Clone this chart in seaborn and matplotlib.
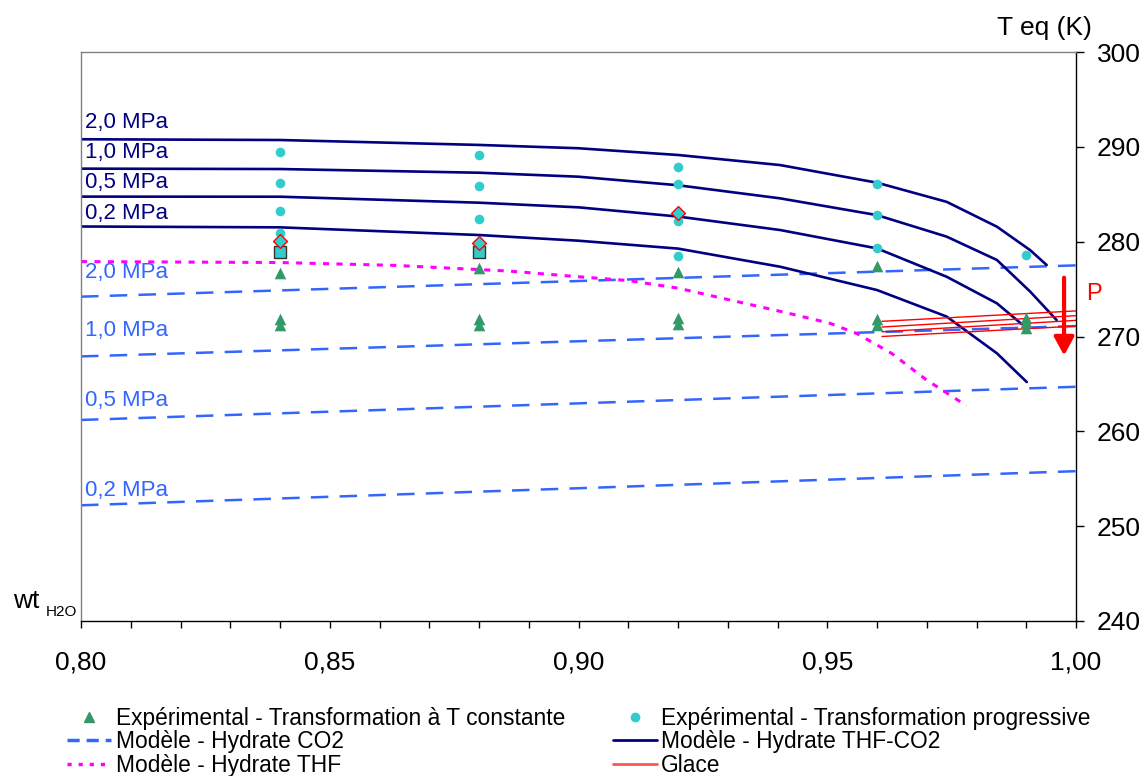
import matplotlib
matplotlib.use('Agg')
import matplotlib.pyplot as plt
from matplotlib.lines import Line2D
import seaborn as sns
import numpy as np

# ---- data ----
# experimental points (wt H2O, T eq in K)
tri_x = [0.84, 0.84, 0.84, 0.88, 0.88, 0.88, 0.92, 0.92, 0.92, 0.96, 0.96, 0.96, 0.99, 0.99, 0.99]
tri_T = [276.7, 271.8, 271.2, 277.2, 271.8, 271.2, 276.8, 272.0, 271.3, 277.4, 271.8, 271.2, 272.0, 271.5, 270.9]

circ_x = [0.84, 0.84, 0.84, 0.84, 0.88, 0.88, 0.88, 0.92, 0.92, 0.92, 0.92, 0.96, 0.96, 0.96, 0.99]
circ_T = [289.5, 286.2, 283.2, 280.9, 289.1, 285.9, 282.4, 287.9, 286.1, 282.2, 278.5, 286.1, 282.8, 279.3, 278.6]

diam_x = [0.84, 0.88, 0.92]
diam_T = [280.1, 279.9, 283.0]
sq_x = [0.84, 0.88]
sq_T = [278.9, 278.9]

# model - hydrate CO2 (straight lines, ends at 0.80 and 1.00)
co2_x = [0.80, 1.00]
co2_20 = [274.2, 277.5]
co2_10 = [267.9, 271.1]
co2_05 = [261.2, 264.7]
co2_02 = [252.2, 255.8]

# model - hydrate THF-CO2
mix_x = [0.80, 0.84, 0.88, 0.90, 0.92, 0.9405, 0.96, 0.974, 0.9841]
mix_20_x = mix_x + [0.9908, 0.9941]
mix_20_T = [290.8, 290.72, 290.2, 289.85, 289.14, 288.08, 286.22, 284.2, 281.58, 279.1, 277.54]
mix_10_x = mix_x + [0.9908, 0.9961]
mix_10_T = [287.7, 287.66, 287.27, 286.85, 285.95, 284.57, 282.8, 280.53, 278.07, 274.73, 271.74]
mix_05_x = mix_x + [0.9891]
mix_05_T = [284.75, 284.74, 284.11, 283.62, 282.65, 281.23, 279.29, 276.3, 273.5, 271.3]
mix_02_x = mix_x + [0.9901]
mix_02_T = [281.6, 281.51, 280.7, 280.1, 279.27, 277.36, 274.9, 272.1, 268.23, 265.2]

# model - hydrate THF
thf_x = [0.80, 0.84, 0.863, 0.886, 0.900, 0.910, 0.920, 0.930, 0.941, 0.9505, 0.956, 0.963, 0.970, 0.978]
thf_T = [277.9, 277.8, 277.5, 276.9, 276.3, 275.9, 275.1, 273.9, 272.6, 271.4, 270.3, 268.2, 265.4, 262.7]

# ice lines
ice_x = [0.961, 1.00]
ice_1 = [271.6, 272.7]
ice_2 = [271.0, 272.2]
ice_3 = [270.5, 271.7]
ice_4 = [270.0, 271.1]

pressures = ['2,0 MPa', '1,0 MPa', '0,5 MPa', '0,2 MPa']
xtick_vals = [0.80, 0.85, 0.90, 0.95, 1.00]
xtick_labels = ['0,80', '0,85', '0,90', '0,95', '1,00']
ytick_vals = [240, 250, 260, 270, 280, 290, 300]

NAVY = '#000080'
BLUE = '#3366FF'
MAG = '#FF00FF'
GREEN = '#339966'
CYAN = '#33CCCC'
RED = '#FF0000'

sns.set_style('white')
plt.rcParams['font.family'] = ['Liberation Sans', 'DejaVu Sans']
plt.rcParams['text.color'] = 'black'
plt.rcParams['xtick.color'] = 'black'
plt.rcParams['ytick.color'] = 'black'

fig = plt.figure(figsize=(11.44, 7.76), dpi=100)
ax = fig.add_axes([81 / 1144, 1 - 621 / 776, 995 / 1144, 569 / 776])

# CO2 hydrate model
for T in [co2_20, co2_10, co2_05, co2_02]:
    sns.lineplot(x=co2_x, y=T, ax=ax, color=BLUE, linewidth=1.8,
                 linestyle=(0, (7, 4.5)), sort=False, legend=False)

# THF-CO2 hydrate model
for xs, T in [(mix_20_x, mix_20_T), (mix_10_x, mix_10_T), (mix_05_x, mix_05_T), (mix_02_x, mix_02_T)]:
    sns.lineplot(x=xs, y=T, ax=ax, color=NAVY, linewidth=1.9, sort=False, legend=False)

# THF hydrate model
sns.lineplot(x=thf_x, y=thf_T, ax=ax, color=MAG, linewidth=2.2,
             linestyle=(0, (2, 2.4)), sort=False, legend=False)

# ice
for T in [ice_1, ice_2, ice_3, ice_4]:
    sns.lineplot(x=ice_x, y=T, ax=ax, color=RED, linewidth=1.0, sort=False, legend=False)

# experimental points
sns.scatterplot(x=tri_x, y=tri_T, ax=ax, marker='^', color=GREEN, s=70, linewidth=0, zorder=5)
sns.scatterplot(x=circ_x, y=circ_T, ax=ax, marker='o', color=CYAN, s=48, linewidth=0, zorder=5)
sns.scatterplot(x=sq_x, y=sq_T, ax=ax, marker='s', color=CYAN, edgecolor='#333333', s=75, linewidth=1.0, zorder=6)
sns.scatterplot(x=diam_x, y=diam_T, ax=ax, marker='D', color=CYAN, edgecolor=RED, s=50, linewidth=1.0, zorder=6)

# pressure labels
for lab, t in zip(pressures, [292.6, 289.35, 286.2, 283.0]):
    ax.text(0.8008, t, lab, color=NAVY, fontsize=16, va='center', ha='left')
for lab, t in zip(pressures, [276.8, 270.6, 263.3, 253.8]):
    ax.text(0.8008, t, lab, color=BLUE, fontsize=16, va='center', ha='left')

# pressure arrow
ax.annotate('', xy=(0.9976, 268.0), xytext=(0.9976, 276.2),
            arrowprops=dict(arrowstyle='-|>,head_length=0.55,head_width=0.3', color=RED,
                            lw=3, shrinkA=0, shrinkB=0, mutation_scale=20))
ax.text(1.0021, 274.5, 'P', color=RED, fontsize=17, va='center', ha='left')

ax.set_xlim(0.80, 1.00)
ax.set_ylim(240, 300)
ax.set_xticks(xtick_vals)
ax.set_xticklabels(xtick_labels)
ax.set_xticks(np.arange(0.80, 1.0001, 0.01), minor=True)
ax.yaxis.tick_right()
ax.set_yticks(ytick_vals)
ax.set_ylabel('')
ax.set_xlabel('')
ax.tick_params(axis='x', which='both', direction='out', length=5, width=1, color='black',
               bottom=True, labelsize=19, pad=16)
ax.tick_params(axis='y', which='both', direction='out', length=6, width=1, color='black',
               right=True, left=False, labelsize=19, pad=9)
for side in ['left', 'top']:
    ax.spines[side].set_color('#808080')
    ax.spines[side].set_linewidth(1)
for side in ['right', 'bottom']:
    ax.spines[side].set_color('black')
    ax.spines[side].set_linewidth(1)

fig.text(1092 / 1144, 1 - 35 / 776, 'T eq (K)', fontsize=19, ha='right', va='baseline')
fig.text(13 / 1144, 1 - 608 / 776, 'wt', fontsize=19, ha='left', va='baseline')
fig.text(46 / 1144, 1 - 616 / 776, 'H2O', fontsize=11, ha='left', va='baseline')

# legend
handles = [
    Line2D([], [], linestyle='none', marker='^', color=GREEN, markersize=7),
    Line2D([], [], color=BLUE, linewidth=2.5, linestyle=(0, (3.5, 2))),
    Line2D([], [], color=MAG, linewidth=2.5, linestyle=(0, (1.2, 2))),
    Line2D([], [], linestyle='none', marker='o', color=CYAN, markersize=6),
    Line2D([], [], color=NAVY, linewidth=2),
    Line2D([], [], color='#FF5555', linewidth=2),
]
labels = [
    'Expérimental - Transformation à T constante',
    'Modèle - Hydrate CO2',
    'Modèle - Hydrate THF',
    'Expérimental - Transformation progressive',
    'Modèle - Hydrate THF-CO2',
    'Glace',
]
fig.legend(handles, labels, ncol=2, loc='upper left', bbox_to_anchor=(67 / 1144, 1 - 707 / 776),
           frameon=False, fontsize=16.4, handlelength=1.93, handletextpad=0.2,
           columnspacing=2.1, labelspacing=0.02, borderpad=0, borderaxespad=0)

fig.savefig('out.png', dpi=100)
